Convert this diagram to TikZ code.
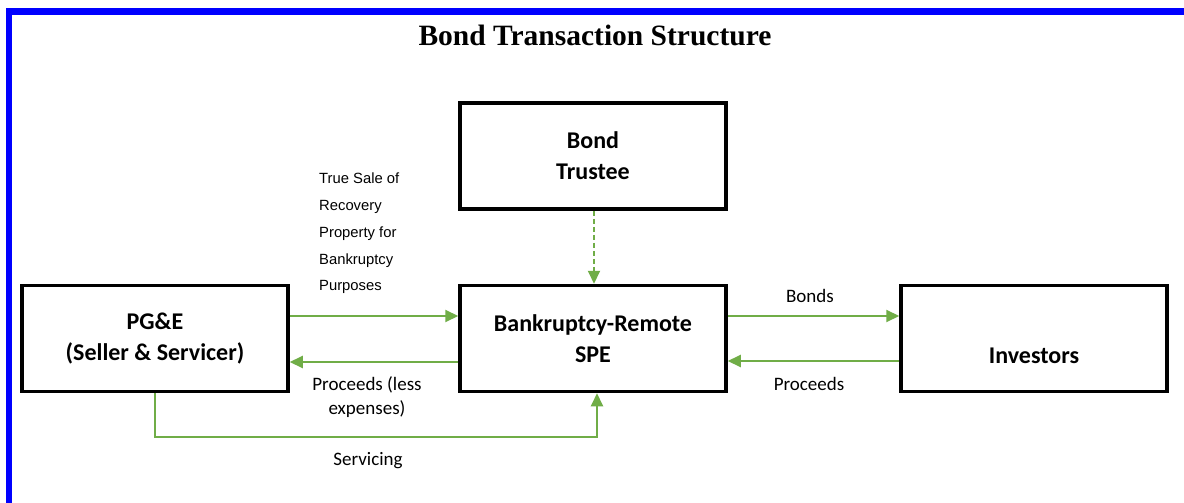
\documentclass[tikz,border=0pt]{standalone}
\usepackage{fontspec}
\setmainfont{Liberation Serif}
\newfontfamily\calfont{Carlito}
\newfontfamily\arialfont{Liberation Sans}
\usetikzlibrary{arrows.meta}
\definecolor{flowgreen}{RGB}{112,173,71}
\definecolor{frameblue}{RGB}{0,0,255}
\tikzset{
  boxnode/.style={draw=black, line width=3.5pt, fill=white, minimum width=266pt, minimum height=106pt, inner sep=0pt, align=center, font=\calfont\bfseries\fontsize{24}{31}\selectfont},
  flow/.style={draw=flowgreen, line width=2pt, -{Triangle[length=13pt,width=12pt]}},
  lbl/.style={inner sep=0pt, font=\calfont\fontsize{19}{24}\selectfont, align=center},
  smalllbl/.style={inner sep=0pt, font=\arialfont\fontsize{14.8}{26.7}\selectfont, align=left}
}
\begin{document}
\begin{tikzpicture}[x=1pt,y=-1pt]
\useasboundingbox (0,0) rectangle (1184,503);
\fill[white] (0,0) rectangle (1184,503);
% blue frame
\fill[frameblue] (6,8) rectangle (1184,15);
\fill[frameblue] (6,8) rectangle (12,503);
% title
\node[inner sep=0pt, font=\bfseries\fontsize{29.5}{32}\selectfont] (title) at (595,35) {Bond Transaction Structure};
% boxes
\node[boxnode] (trustee) at (593,156) {Bond\\Trustee};
\node[boxnode] (pge) at (155,338.5) {PG\&E\\(Seller \& Servicer)};
\node[boxnode] (spe) at (593,338.5) {Bankruptcy-Remote\\SPE};
\node[boxnode, text height=50pt, text depth=0pt] (inv) at (1034,338.5) {Investors};
% connectors
\draw[flow] ([yshift=22.5pt]pge.east) -- ([yshift=22.5pt]spe.west);
\draw[flow] ([yshift=-23.5pt]spe.west) -- ([yshift=-23.5pt]pge.east);
\draw[flow] ([yshift=22.5pt]spe.east) -- ([yshift=22.5pt]inv.west);
\draw[flow] ([yshift=-22.5pt]inv.west) -- ([yshift=-22.5pt]spe.east);
\draw[flow, dashed, dash pattern=on 5pt off 3pt] ([xshift=1pt]trustee.south) -- ([xshift=1pt]spe.north);
\coordinate (servlevel) at (0,437);
\draw[flow] (pge.south) -- (pge.south |- servlevel) -| ([xshift=4pt]spe.south);
% labels
\node[smalllbl, anchor=north west] (truesale) at (319,173) {True Sale of\\Recovery\\Property for\\Bankruptcy\\Purposes};
\node[lbl] (procless) at (367,397) {Proceeds (less\\expenses)};
\node[lbl] (bonds) at (810,296) {Bonds};
\node[lbl] (proc) at (809,384) {Proceeds};
\node[lbl] (serv) at (368,461) {Servicing};
\end{tikzpicture}
\end{document}
